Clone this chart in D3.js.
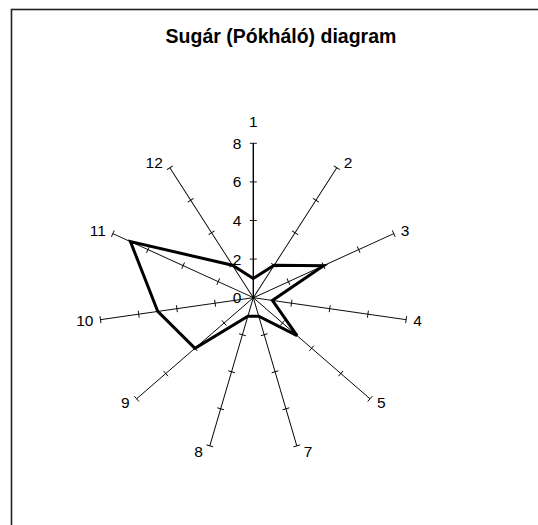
<!DOCTYPE html>
<html>
<head>
<meta charset="utf-8">
<script src="https://cdn.jsdelivr.net/npm/d3@7"></script>
<style>
  html, body { margin: 0; padding: 0; background: #fff; }
  svg { display: block; font-family: "Liberation Sans", Arial, sans-serif; }
</style>
</head>
<body>
<div id="chart"></div>
<script>
// categories as printed on the spokes (there is no "6" in the source chart)
const categories = ["1", "2", "3", "4", "5", "7", "8", "9", "10", "11", "12"];
const values = [1, 2, 4, 1, 3, 1, 1, 4, 5, 7, 2];
const ticks = [0, 2, 4, 6, 8];
const title = "Sugár (Pókháló) diagram";

const width = 538, height = 525;
const cx = 253.3, cy = 297.7, radius = 154.4;

const svg = d3.select("#chart")
  .append("svg")
  .attr("width", width)
  .attr("height", height);

svg.append("rect")
  .attr("x", 11.5).attr("y", 9.5)
  .attr("width", 560).attr("height", 560)
  .attr("fill", "#fff")
  .attr("stroke", "#222")
  .attr("stroke-width", 1.6);

svg.append("text")
  .attr("x", 281).attr("y", 43)
  .attr("text-anchor", "middle")
  .attr("font-weight", "bold")
  .attr("font-size", 19.5)
  .text(title);

const r = d3.scaleLinear().domain([0, 8]).range([0, radius]);
const angle = d3.scaleLinear().domain([0, categories.length]).range([0, 2 * Math.PI]);

const g = svg.append("g").attr("transform", `translate(${cx},${cy})`);

// spokes
const spoke = g.selectAll("g.spoke")
  .data(categories)
  .join("g")
    .attr("class", "spoke")
    .attr("transform", (d, i) => `rotate(${angle(i) * 180 / Math.PI})`);

spoke.append("line")
  .attr("x1", 0).attr("y1", 0)
  .attr("x2", 0).attr("y2", -r(8))
  .attr("stroke", "#000")
  .attr("stroke-width", (d, i) => i === 0 ? 1.4 : 0.9);

spoke.selectAll("line.tick")
  .data(ticks.slice(1))
  .join("line")
    .attr("class", "tick")
    .attr("x1", -3.5).attr("x2", 3.5)
    .attr("y1", d => -r(d)).attr("y2", d => -r(d))
    .attr("stroke", "#000")
    .attr("stroke-width", 0.9);

// value labels on the first spoke
g.selectAll("text.val")
  .data(ticks)
  .join("text")
    .attr("class", "val")
    .attr("x", -12)
    .attr("y", d => -r(d))
    .attr("dy", "0.35em")
    .attr("text-anchor", "end")
    .attr("font-size", 15.5)
    .text(d => d);

// category labels
g.selectAll("text.cat")
  .data(categories)
  .join("text")
    .attr("class", "cat")
    .each(function(d, i) {
      const a = angle(i), s = Math.sin(a), c = Math.cos(a);
      const ex = r(8) * s, ey = -r(8) * c;
      const t = d3.select(this);
      if (Math.abs(s) < 0.1) {
        t.attr("x", ex).attr("y", ey - 22).attr("text-anchor", "middle");
      } else {
        t.attr("x", ex + (s > 0 ? 7 : -7)).attr("y", ey - 6 * c)
         .attr("text-anchor", s > 0 ? "start" : "end");
      }
    })
    .attr("dy", "0.35em")
    .attr("font-size", 15.5)
    .text(d => d);

// data polygon
const line = d3.lineRadial()
  .angle((d, i) => angle(i))
  .radius(d => r(d))
  .curve(d3.curveLinearClosed);

g.append("path")
  .datum(values)
  .attr("d", line)
  .attr("fill", "none")
  .attr("stroke", "#000")
  .attr("stroke-width", 3)
  .attr("stroke-linejoin", "miter");
</script>
</body>
</html>
